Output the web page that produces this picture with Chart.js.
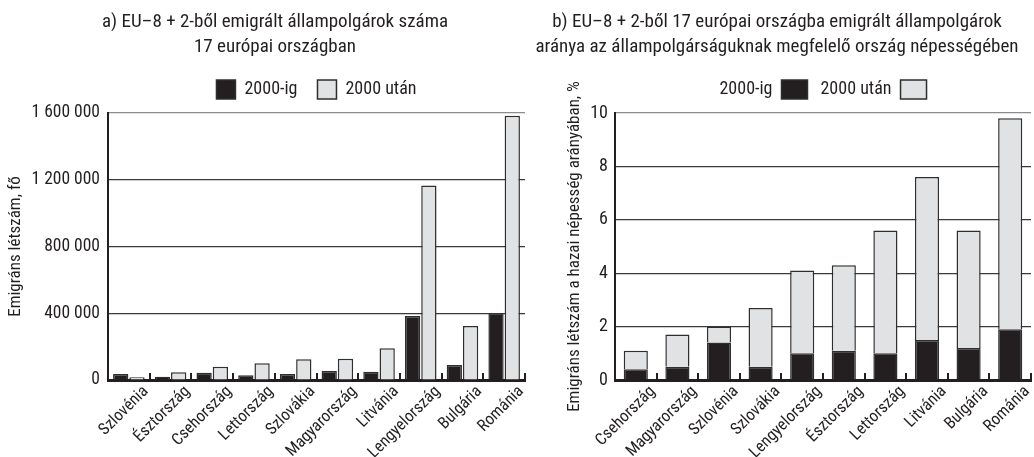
<!DOCTYPE html>
<html><head><meta charset="utf-8">
<script src="https://cdn.jsdelivr.net/npm/chart.js@4.4.1/dist/chart.umd.min.js"></script>
<style>
html,body{margin:0;padding:0;background:#fff;}
#wrap{position:relative;width:1034px;height:457px;overflow:hidden;background:#fff;}
#ca{position:absolute;left:0;top:0;}
#cb{position:absolute;left:523px;top:0;}
</style></head><body>
<div id="wrap"><canvas id="ca" width="550" height="457"></canvas><canvas id="cb" width="511" height="457"></canvas></div>
<script>
// ---- data ----
const seriesNames = ['2000-ig', '2000 után'];

const titleA = ['a) EU–8 + 2-ből emigrált állampolgárok száma', '17 európai országban'];
const axisTitleA = 'Emigráns létszám, fő';
const categoriesA = ['Szlovénia', 'Észtország', 'Csehország', 'Lettország', 'Szlovákia', 'Magyarország', 'Litvánia', 'Lengyelország', 'Bulgária', 'Románia'];
const before2000A = [36000, 20000, 44000, 28000, 36000, 54000, 50000, 384000, 90000, 400000];
const after2000A  = [16000, 46000, 80000, 100000, 124000, 128000, 190000, 1166000, 324000, 1584000];
const yTickLabelsA = ['0', '400 000', '800 000', '1 200 000', '1 600 000'];

const titleB = ['b) EU–8 + 2-ből 17 európai országba emigrált állampolgárok', 'aránya az állampolgárságuknak megfelelő ország népességében'];
const axisTitleB = 'Emigráns létszám a hazai népesség arányában, %';
const categoriesB = ['Csehország', 'Magyarország', 'Szlovénia', 'Szlovákia', 'Lengyelország', 'Észtország', 'Lettország', 'Litvánia', 'Bulgária', 'Románia'];
const before2000B = [0.4, 0.5, 1.4, 0.5, 1.0, 1.1, 1.0, 1.5, 1.2, 1.9];
const after2000B  = [0.7, 1.2, 0.6, 2.2, 3.1, 3.2, 4.6, 6.1, 4.4, 7.9];
const yTickLabelsB = ['0', '2', '4', '6', '8', '10'];

// ---- styles ----
const FONT = "'Roboto Condensed', 'Liberation Sans Narrow', 'DejaVu Sans Condensed', sans-serif";
const TXT = '#231f20';
const DARK = '#231f20';
const LIGHT = '#e1e2e4';
const EDGE = '#2e2e2e';
Chart.defaults.font.family = FONT;
Chart.defaults.color = TXT;

function dummy(pos, size) {
  return {
    type: 'linear', position: pos, display: true,
    grid: {display: false}, border: {display: false}, ticks: {display: false},
    afterFit: s => { if (pos === 'top') s.height = size; else s.width = size; }
  };
}

function xAxis(stacked) {
  return {
    type: 'category', position: 'bottom', offset: true, stacked: stacked,
    grid: {display: true, offset: true, drawOnChartArea: false, drawTicks: true, tickLength: -7, lineWidth: 2, color: DARK},
    border: {display: true, width: 3, color: DARK},
    ticks: {maxRotation: 45, minRotation: 45, autoSkip: false, padding: 9, labelOffset: 17, font: {size: 16.5}, color: TXT},
    afterFit: s => { s.height = 77; }
  };
}

function gridColor(max) {
  return ctx => (ctx.tick && ctx.tick.value === max) ? '#8c8c8c' : '#3a3a3a';
}

// ---- chart a ----
new Chart(document.getElementById('ca'), {
  type: 'bar',
  data: {
    labels: categoriesA,
    datasets: [
      {label: seriesNames[0], data: before2000A, xAxisID: 'x', yAxisID: 'y', backgroundColor: DARK, borderColor: EDGE, borderWidth: 1.5, categoryPercentage: 0.78, barPercentage: 0.94},
      {label: seriesNames[1], data: after2000A, xAxisID: 'x', yAxisID: 'y', backgroundColor: LIGHT, borderColor: EDGE, borderWidth: 1.5, categoryPercentage: 0.78, barPercentage: 0.94}
    ]
  },
  options: {
    responsive: false, animation: false, devicePixelRatio: 1,
    layout: {padding: 0},
    plugins: {
      title: {display: true, text: titleA, color: TXT, font: {size: 19, weight: 'normal', lineHeight: 25 / 19}, padding: {top: 9.5, bottom: 0.5}},
      legend: {display: true, fullSize: false, labels: {boxWidth: 19, boxHeight: 19, padding: 20, color: TXT, font: {size: 18}}},
      tooltip: {enabled: false}
    },
    scales: {
      x: xAxis(false),
      y: {
        type: 'linear', position: 'left', min: 0, max: 1600000,
        ticks: {stepSize: 400000, padding: 8, color: TXT, font: {size: 17.5}, callback: (v, i) => yTickLabelsA[i]},
        grid: {drawTicks: false, color: gridColor(1600000), lineWidth: 1.2},
        border: {display: true, width: 2, color: DARK},
        title: {display: true, text: axisTitleA, color: TXT, font: {size: 17}, padding: {top: 6, bottom: 0}},
        afterFit: s => { s.width = 108; }
      },
      gapTop: dummy('top', 4),
      padRight: dummy('right', 25)
    }
  }
});

// ---- chart b ----
new Chart(document.getElementById('cb'), {
  type: 'bar',
  data: {
    labels: categoriesB,
    datasets: [
      {label: seriesNames[0], data: before2000B, xAxisID: 'x', yAxisID: 'y', backgroundColor: DARK, borderColor: EDGE, borderWidth: 1.5, categoryPercentage: 0.58, barPercentage: 1.0},
      {label: seriesNames[1], data: after2000B, xAxisID: 'x', yAxisID: 'y', backgroundColor: LIGHT, borderColor: EDGE, borderWidth: 1.5, categoryPercentage: 0.58, barPercentage: 1.0}
    ]
  },
  options: {
    responsive: false, animation: false, devicePixelRatio: 1,
    layout: {padding: {right: 3}},
    plugins: {
      title: {display: true, text: titleB, color: TXT, font: {size: 19, weight: 'normal', lineHeight: 25 / 19}, padding: {top: 9.5, bottom: 7.5}},
      legend: {display: true, fullSize: false, rtl: true, reverse: true, textDirection: 'ltr', labels: {boxWidth: 26, boxHeight: 19, padding: 13, color: TXT, font: {size: 18}}},
      tooltip: {enabled: false}
    },
    scales: {
      x: xAxis(true),
      y: {
        type: 'linear', position: 'left', min: 0, max: 10, stacked: true,
        ticks: {stepSize: 2, padding: 7, color: TXT, font: {size: 18}, callback: (v, i) => yTickLabelsB[i]},
        grid: {drawTicks: false, color: gridColor(10), lineWidth: 1.2},
        border: {display: true, width: 2, color: DARK},
        title: {display: true, text: axisTitleB, color: TXT, font: {size: 17}, padding: {top: 42, bottom: 0}},
        afterFit: s => { s.width = 92; }
      },
      gapTop: dummy('top', 4)
    }
  }
});
</script>
</body></html>
